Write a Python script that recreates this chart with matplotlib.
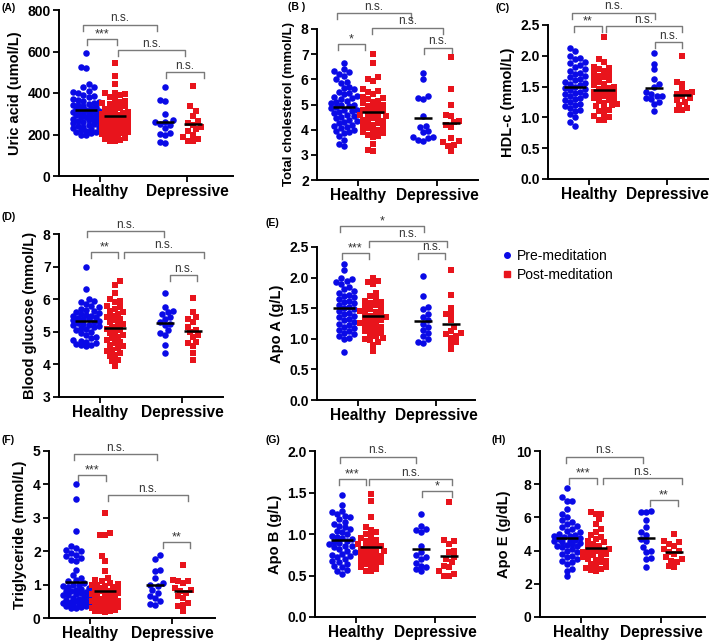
import numpy as np
import matplotlib
matplotlib.use('Agg')
import matplotlib.pyplot as plt
from matplotlib.lines import Line2D

plt.rcParams['font.family'] = ['Liberation Sans', 'DejaVu Sans']

# ---- data ----
groups = ['Healthy', 'Depressive']
series = ['Pre-meditation', 'Post-meditation']

uric_pre_h = [595, 525, 522, 445, 430, 428, 412, 405, 398, 392, 385, 380, 372, 368, 362, 358, 352, 348, 344, 340, 336, 332, 328, 325, 322, 318, 315, 312, 310, 306, 302, 298, 295, 292, 288, 285, 282, 278, 275, 272, 268, 265, 262, 258, 255, 250, 246, 242, 238, 235, 230, 226, 222, 218, 214, 210, 205, 200, 196]
uric_post_h = [545, 480, 445, 400, 398, 395, 390, 380, 370, 362, 355, 350, 345, 340, 335, 330, 325, 320, 315, 310, 305, 300, 296, 292, 288, 284, 280, 276, 272, 268, 264, 260, 256, 252, 248, 244, 240, 236, 232, 228, 224, 220, 216, 212, 208, 204, 200, 195, 190, 185, 180, 175, 170, 168]
uric_pre_d = [430, 368, 362, 300, 272, 262, 258, 252, 248, 232, 205, 200, 202, 165, 160]
uric_post_d = [435, 335, 315, 290, 265, 255, 248, 235, 225, 215, 200, 190, 180, 170, 168]

chol_pre_h = [6.65, 6.4, 6.35, 6.3, 6.2, 6.15, 6.0, 5.9, 5.85, 5.7, 5.65, 5.6, 5.5, 5.45, 5.4, 5.35, 5.3, 5.25, 5.2, 5.15, 5.1, 5.05, 5.0, 4.98, 4.95, 4.9, 4.85, 4.8, 4.78, 4.75, 4.7, 4.65, 4.6, 4.55, 4.5, 4.45, 4.4, 4.35, 4.3, 4.25, 4.2, 4.15, 4.1, 4.05, 4.0, 3.95, 3.9, 3.85, 3.75, 3.6, 3.45, 3.35]
chol_post_h = [7.0, 6.65, 6.1, 6.0, 5.95, 5.6, 5.55, 5.5, 5.4, 5.3, 5.25, 5.2, 5.15, 5.1, 5.05, 5.0, 4.95, 4.9, 4.85, 4.8, 4.75, 4.72, 4.7, 4.65, 4.6, 4.55, 4.5, 4.48, 4.45, 4.4, 4.35, 4.3, 4.25, 4.2, 4.15, 4.1, 4.05, 4.0, 3.95, 3.9, 3.85, 3.8, 3.75, 3.7, 3.45, 3.2, 3.15]
chol_pre_d = [6.25, 6.0, 5.35, 5.25, 5.2, 4.55, 4.15, 4.1, 3.95, 3.9, 3.7, 3.7, 3.65, 3.6, 3.55]
chol_post_d = [6.9, 5.6, 5.0, 4.6, 4.55, 4.35, 4.3, 4.2, 4.1, 3.65, 3.55, 3.5, 3.4, 3.35, 3.15]

hdl_pre_h = [2.12, 2.08, 2.0, 1.97, 1.95, 1.9, 1.88, 1.85, 1.82, 1.78, 1.75, 1.72, 1.7, 1.68, 1.65, 1.62, 1.6, 1.58, 1.56, 1.54, 1.52, 1.5, 1.48, 1.46, 1.44, 1.42, 1.4, 1.38, 1.36, 1.34, 1.32, 1.3, 1.28, 1.25, 1.22, 1.2, 1.18, 1.15, 1.12, 1.1, 1.05, 1.0, 0.92, 0.86]
hdl_post_h = [2.3, 1.95, 1.9, 1.82, 1.8, 1.78, 1.75, 1.72, 1.7, 1.68, 1.65, 1.62, 1.6, 1.58, 1.55, 1.52, 1.5, 1.48, 1.46, 1.44, 1.42, 1.4, 1.38, 1.36, 1.34, 1.32, 1.3, 1.28, 1.26, 1.24, 1.22, 1.2, 1.18, 1.15, 1.12, 1.1, 1.05, 1.02, 1.0, 0.95, 0.95]
hdl_pre_d = [2.04, 1.87, 1.78, 1.62, 1.5, 1.55, 1.42, 1.35, 1.32, 1.38, 1.35, 1.3, 1.25, 1.22, 1.11]
hdl_post_d = [2.0, 1.58, 1.55, 1.45, 1.42, 1.4, 1.38, 1.35, 1.32, 1.28, 1.25, 1.2, 1.15, 1.12, 1.12]

glu_pre_h = [7.0, 6.3, 6.0, 5.95, 5.9, 5.85, 5.8, 5.75, 5.7, 5.68, 5.65, 5.6, 5.58, 5.55, 5.52, 5.5, 5.48, 5.45, 5.42, 5.4, 5.38, 5.35, 5.32, 5.3, 5.28, 5.25, 5.22, 5.2, 5.18, 5.15, 5.12, 5.1, 5.05, 5.0, 4.95, 4.9, 4.85, 4.8, 4.75, 4.72, 4.7, 4.65, 4.62, 4.6, 4.58, 4.55]
glu_post_h = [6.55, 6.45, 6.2, 6.0, 5.95, 5.9, 5.8, 5.75, 5.7, 5.65, 5.6, 5.55, 5.5, 5.45, 5.4, 5.35, 5.3, 5.25, 5.2, 5.15, 5.1, 5.05, 5.0, 4.95, 4.9, 4.85, 4.8, 4.75, 4.7, 4.65, 4.6, 4.55, 4.5, 4.45, 4.4, 4.35, 4.3, 4.25, 4.15, 4.1, 3.95]
glu_pre_d = [6.2, 5.75, 5.65, 5.6, 5.55, 5.45, 5.4, 5.3, 5.25, 5.2, 5.05, 4.95, 4.9, 4.6, 4.35]
glu_post_d = [6.05, 5.6, 5.45, 5.4, 5.3, 5.15, 5.05, 5.0, 4.9, 4.85, 4.7, 4.65, 4.55, 4.35, 4.15]

apoa_pre_h = [2.22, 2.12, 2.0, 1.98, 1.95, 1.92, 1.9, 1.85, 1.82, 1.78, 1.75, 1.72, 1.7, 1.68, 1.65, 1.62, 1.6, 1.58, 1.55, 1.52, 1.5, 1.48, 1.45, 1.42, 1.4, 1.38, 1.35, 1.32, 1.3, 1.28, 1.25, 1.22, 1.2, 1.18, 1.15, 1.12, 1.1, 1.08, 1.05, 1.02, 1.0, 0.78]
apoa_post_h = [2.0, 1.95, 1.92, 1.9, 1.75, 1.7, 1.65, 1.62, 1.6, 1.58, 1.55, 1.52, 1.5, 1.48, 1.46, 1.44, 1.42, 1.4, 1.38, 1.36, 1.34, 1.32, 1.3, 1.28, 1.26, 1.24, 1.22, 1.2, 1.18, 1.15, 1.12, 1.1, 1.08, 1.05, 1.02, 1.0, 0.98, 0.95, 0.9, 0.8]
apoa_pre_d = [2.02, 1.7, 1.52, 1.48, 1.4, 1.35, 1.3, 1.25, 1.2, 1.15, 1.1, 1.05, 1.0, 0.95, 0.93]
apoa_post_d = [2.12, 1.72, 1.5, 1.4, 1.4, 1.3, 1.2, 1.12, 1.1, 1.08, 1.05, 1.02, 0.95, 0.93, 0.84]

tg_pre_h = [4.02, 3.55, 2.6, 2.15, 2.1, 2.05, 2.0, 1.95, 1.9, 1.85, 1.8, 1.75, 1.7, 1.45, 1.3, 1.2, 1.15, 1.1, 1.05, 1.0, 0.98, 0.95, 0.92, 0.9, 0.88, 0.85, 0.82, 0.8, 0.78, 0.75, 0.72, 0.7, 0.68, 0.65, 0.62, 0.6, 0.58, 0.55, 0.52, 0.5, 0.48, 0.45, 0.42, 0.4, 0.38, 0.35, 0.32, 0.3, 0.3, 0.35, 0.4, 0.45, 0.5]
tg_post_h = [3.15, 2.55, 2.5, 2.48, 1.85, 1.7, 1.4, 1.2, 1.15, 1.1, 1.05, 1.02, 1.0, 0.98, 0.95, 0.92, 0.9, 0.88, 0.85, 0.82, 0.8, 0.78, 0.75, 0.72, 0.7, 0.68, 0.65, 0.62, 0.6, 0.58, 0.55, 0.52, 0.5, 0.48, 0.45, 0.42, 0.4, 0.38, 0.35, 0.32, 0.3, 0.28, 0.25, 0.22, 0.2, 0.18, 0.5, 0.45, 0.4, 0.35, 0.3, 0.25, 0.2, 0.3]
tg_pre_d = [1.9, 1.78, 1.45, 1.42, 1.2, 1.05, 1.0, 0.95, 0.85, 0.75, 0.65, 0.6, 0.5, 0.42, 0.4]
tg_post_d = [1.6, 1.15, 1.12, 1.1, 1.05, 0.9, 0.85, 0.8, 0.75, 0.65, 0.6, 0.45, 0.4, 0.35, 0.22]

apob_pre_h = [1.47, 1.35, 1.28, 1.26, 1.24, 1.22, 1.2, 1.18, 1.15, 1.12, 1.1, 1.08, 1.06, 1.04, 1.02, 1.0, 0.98, 0.96, 0.95, 0.94, 0.92, 0.9, 0.89, 0.88, 0.86, 0.85, 0.84, 0.82, 0.8, 0.78, 0.76, 0.75, 0.74, 0.72, 0.7, 0.68, 0.66, 0.64, 0.62, 0.6, 0.57, 0.56, 0.52]
apob_post_h = [1.48, 1.4, 1.2, 1.08, 1.05, 1.02, 1.0, 0.98, 0.95, 0.93, 0.92, 0.9, 0.88, 0.86, 0.85, 0.84, 0.83, 0.82, 0.8, 0.78, 0.77, 0.76, 0.75, 0.74, 0.72, 0.7, 0.69, 0.68, 0.66, 0.65, 0.64, 0.62, 0.6, 0.58, 0.56, 0.55]
apob_pre_d = [1.24, 1.1, 1.06, 1.05, 1.02, 0.85, 0.78, 0.75, 0.72, 0.7, 0.65, 0.62, 0.6, 0.58, 0.55]
apob_post_d = [1.39, 0.93, 0.92, 0.88, 0.8, 0.78, 0.72, 0.7, 0.66, 0.62, 0.6, 0.55, 0.52, 0.5, 0.5]

apoe_pre_h = [7.75, 7.2, 7.0, 7.0, 6.5, 6.2, 6.0, 5.85, 5.7, 5.6, 5.5, 5.4, 5.3, 5.2, 5.1, 5.0, 4.95, 4.9, 4.85, 4.8, 4.75, 4.7, 4.65, 4.6, 4.55, 4.5, 4.45, 4.4, 4.35, 4.3, 4.25, 4.2, 4.1, 4.0, 3.9, 3.8, 3.7, 3.6, 3.5, 3.4, 3.3, 3.2, 2.9, 2.8, 2.45]
apoe_post_h = [6.35, 6.2, 6.2, 5.9, 5.6, 5.3, 5.1, 4.95, 4.8, 4.7, 4.6, 4.5, 4.4, 4.3, 4.2, 4.1, 4.05, 4.0, 3.95, 3.9, 3.85, 3.8, 3.75, 3.7, 3.6, 3.5, 3.45, 3.4, 3.3, 3.2, 3.1, 3.0, 2.95, 2.9, 2.85, 2.8]
apoe_pre_d = [6.4, 6.35, 6.3, 5.85, 5.45, 5.1, 4.95, 4.7, 4.55, 4.2, 4.0, 3.9, 3.55, 3.5, 3.0]
apoe_post_d = [5.0, 4.6, 4.5, 4.4, 4.3, 4.1, 4.0, 3.9, 3.8, 3.6, 3.5, 3.4, 3.3, 3.1, 3.0]

# significance brackets: (x1, x2, y, label), x in px from the y axis
sig_A = [(24, 98, 728, 'n.s.'), (28, 58, 660, '***'), (59, 126, 607, 'n.s.'), (107, 145, 501, 'n.s.')]
sig_B = [(20, 94, 8.62, 'n.s.'), (21, 48, 7.40, '*'), (55, 126, 8.04, 'n.s.'), (107, 135, 7.25, 'n.s.')]
sig_C = [(24, 107, 2.70, 'n.s.'), (26, 54, 2.48, '**'), (58, 134, 2.48, 'n.s.'), (107, 134, 2.22, 'n.s.')]
sig_D = [(28, 105, 8.09, 'n.s.'), (32, 59, 7.45, '**'), (65, 145, 7.45, 'n.s.'), (111, 138, 6.74, 'n.s.')]
sig_E = [(23, 107, 2.84, '*'), (25, 52, 2.40, '***'), (52, 130, 2.60, 'n.s.'), (101, 128, 2.40, 'n.s.')]
sig_F = [(25, 108, 4.91, 'n.s.'), (29, 57, 4.28, '***'), (59, 139, 3.68, 'n.s.'), (114, 141, 2.28, '**')]
sig_G = [(25, 101, 1.93, 'n.s.'), (24, 51, 1.66, '***'), (54, 137, 1.66, 'n.s.'), (107, 137, 1.52, '*')]
sig_H = [(26, 103, 9.64, 'n.s.'), (29, 57, 8.37, '***'), (63, 142, 8.37, 'n.s.'), (110, 138, 7.05, '**')]

W, H = 709, 642
BLUE = '#0a0ae6'
RED = '#e8141c'

# panel layout in pixels: tag, ylabel, data, ylim, yticks, fmt, (left, right, top, bottom), tag pos, sig, ylabel size, dep tick
panels = [
    ('(A)', 'Uric acid (umol/L)', [uric_pre_h, uric_post_h, uric_pre_d, uric_post_d], (0, 800), np.arange(0, 801, 200), '%d', (59, 233, 10, 176), (2, 8), sig_A, 10.5, 128),
    ('(B )', 'Total cholesterol (mmol/L)', [chol_pre_h, chol_post_h, chol_pre_d, chol_post_d], (2, 8), np.arange(2, 9, 1), '%d', (317, 478, 29, 180), (288, 7), sig_B, 9.5, 120),
    ('(C)', 'HDL-c (mmol/L)', [hdl_pre_h, hdl_post_h, hdl_pre_d, hdl_post_d], (0, 2.5), np.arange(0, 2.51, 0.5), '%.1f', (548, 708, 25, 179), (495, 8), sig_C, 10.5, 119),
    ('(D)', 'Blood glucose (mmol/L)', [glu_pre_h, glu_post_h, glu_pre_d, glu_post_d], (3, 8), np.arange(3, 9, 1), '%d', (59, 223, 234, 397), (2, 217), sig_D, 10.5, 123),
    ('(E)', 'Apo A (g/L)', [apoa_pre_h, apoa_post_h, apoa_pre_d, apoa_post_d], (0, 2.5), np.arange(0, 2.51, 0.5), '%.1f', (317, 475, 247, 400), (265, 223), sig_E, 10.5, 119),
    ('(F)', 'Triglyceride (mmol/L)', [tg_pre_h, tg_post_h, tg_pre_d, tg_post_d], (0, 5), np.arange(0, 6, 1), '%d', (49, 215, 451, 618), (2, 440), sig_F, 10.5, 123),
    ('(G)', 'Apo B (g/L)', [apob_pre_h, apob_post_h, apob_pre_d, apob_post_d], (0, 2.0), np.arange(0, 2.01, 0.5), '%.1f', (315, 475, 451, 617), (265, 440), sig_G, 10.5, 120),
    ('(H)', 'Apo E (g/dL)', [apoe_pre_h, apoe_post_h, apoe_pre_d, apoe_post_d], (0, 10), np.arange(0, 11, 2), '%d', (540, 705, 451, 617), (492, 440), sig_H, 10.5, 121),
]

xpos = [27, 56, 106, 134]


def swarm(vals, ppy, d=5.2, maxw=13):
    vals = np.asarray(vals, float)
    order = np.argsort(vals)
    cands = [0.0]
    k = 1
    while k * d * 0.5 <= maxw:
        cands += [k * d * 0.5, -k * d * 0.5]
        k += 1
    placed = []
    offs = np.zeros(len(vals))
    for n, i in enumerate(order):
        y = vals[i] * ppy
        best, bestd = 0.0, -1
        cc = cands if n % 2 == 0 else [-c for c in cands]
        for c in cc:
            md = min([np.hypot(c - px, y - py) for px, py in placed] or [99])
            if md >= d:
                best = c
                break
            if md > bestd:
                best, bestd = c, md
        offs[i] = best
        placed.append((best, y))
    return offs


fig = plt.figure(figsize=(W / 100, H / 100), dpi=100)

for tag, ylab, data, ylim, yt, fmt, box, tpos, sig, ylfs, dtick in panels:
    l, r, t, b = box
    ax = fig.add_axes([l / W, 1 - b / H, (r - l) / W, (b - t) / H])
    ax.set_xlim(0, r - l)
    ax.set_ylim(*ylim)
    ppy = (b - t) / (ylim[1] - ylim[0])
    for j, vals in enumerate(data):
        offs = swarm(vals, ppy, maxw=13 if j < 2 else 11)
        if j % 2 == 0:
            ax.scatter(xpos[j] + offs, vals, s=22, marker='o', color=BLUE, linewidths=0, zorder=3, clip_on=False)
        else:
            ax.scatter(xpos[j] + offs, vals, s=19, marker='s', color=RED, linewidths=0, zorder=3, clip_on=False)
        hw = 11 if j < 2 else 9
        m = np.mean(vals)
        ax.plot([xpos[j] - hw, xpos[j] + hw], [m, m], color='black', lw=1.8, zorder=4, solid_capstyle='butt')
    # brackets
    drop = 6 / ppy
    for x1, x2, y, lab in sig:
        ax.plot([x1, x1, x2, x2], [y - drop, y, y, y - drop], color='#7a7a7a', lw=1.0, clip_on=False, zorder=2)
        if lab == 'n.s.':
            ax.text((x1 + x2) / 2, y + 0.5 / ppy, lab, ha='center', va='bottom', fontsize=8.5, color='#333333')
        else:
            ax.text((x1 + x2) / 2, y - 1.5 / ppy, lab, ha='center', va='bottom', fontsize=9, color='#333333')
    ax.spines['top'].set_visible(False)
    ax.spines['right'].set_visible(False)
    for sp in ['left', 'bottom']:
        ax.spines[sp].set_linewidth(1.4)
    ax.set_yticks(yt)
    ax.set_yticklabels([fmt % v for v in yt], fontweight='bold', fontsize=10)
    ax.set_xticks([41, dtick])
    ax.set_xticklabels(groups, fontweight='bold', fontsize=11.2)
    ax.tick_params(axis='y', length=4, width=1.3, pad=2)
    ax.tick_params(axis='x', length=4, width=1.3, pad=2)
    ax.set_ylabel(ylab, fontweight='bold', fontsize=ylfs, labelpad=4)
    fig.text(tpos[0] / W, 1 - tpos[1] / H, tag, fontsize=7.5, fontweight='bold', va='center', ha='left')

handles = [Line2D([], [], marker='o', color=BLUE, ls='none', markersize=4),
           Line2D([], [], marker='s', color=RED, ls='none', markersize=3.8)]
fig.legend(handles, series, loc='upper left', bbox_to_anchor=(492 / W, 1 - 242 / H), frameon=False,
           fontsize=10, handletextpad=0.1, labelspacing=0.35, handlelength=1.2, borderpad=0)

fig.savefig('out.png', dpi=100)
